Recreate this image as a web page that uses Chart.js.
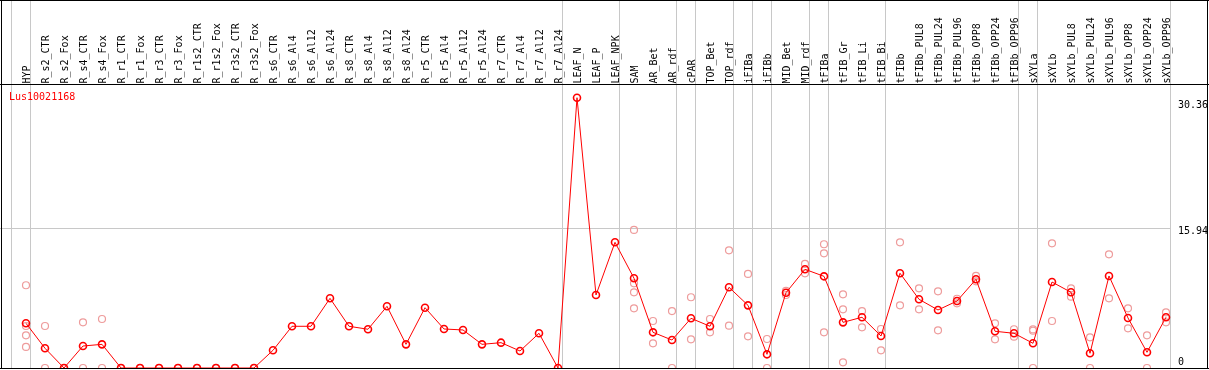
<!DOCTYPE html>
<html>
<head>
<meta charset="utf-8">
<script src="https://cdn.jsdelivr.net/npm/chart.js@4.4.1/dist/chart.umd.min.js"></script>
<style>
  html, body { margin: 0; padding: 0; background: #fff; }
  #wrap { width: 1209px; height: 370px; }
</style>
</head>
<body>
<div id="wrap"><canvas id="chart" width="1209" height="370"></canvas></div>
<script>
// Samples shown along the top
const categories = [
    'HYP', 'R_s2_CTR', 'R_s2_Fox', 'R_s4_CTR', 'R_s4_Fox', 'R_r1_CTR', 'R_r1_Fox', 'R_r3_CTR', 'R_r3_Fox',
    'R_r1s2_CTR', 'R_r1s2_Fox', 'R_r3s2_CTR', 'R_r3s2_Fox', 'R_s6_CTR', 'R_s6_Al4', 'R_s6_Al12', 'R_s6_Al24',
    'R_s8_CTR', 'R_s8_Al4', 'R_s8_Al12', 'R_s8_Al24', 'R_r5_CTR', 'R_r5_Al4', 'R_r5_Al12', 'R_r5_Al24',
    'R_r7_CTR', 'R_r7_Al4', 'R_r7_Al12', 'R_r7_Al24', 'LEAF_N', 'LEAF_P', 'LEAF_NPK', 'SAM', 'AR_Bet', 'AR_rdf',
    'cPAR', 'TOP_Bet', 'TOP_rdf', 'iFIBa', 'iFIBb', 'MID_Bet', 'MID_rdf', 'tFIBa', 'tFIB_Gr', 'tFIB_Li', 'tFIB_Bi',
    'tFIBb', 'tFIBb_PUL8', 'tFIBb_PUL24', 'tFIBb_PUL96', 'tFIBb_OPP8', 'tFIBb_OPP24', 'tFIBb_OPP96',
    'sXYLa', 'sXYLb', 'sXYLb_PUL8', 'sXYLb_PUL24', 'sXYLb_PUL96', 'sXYLb_OPP8', 'sXYLb_OPP24', 'sXYLb_OPP96'
];

// Mean expression per sample
const means = [
    5.10, 2.25, 0, 2.51, 2.70, 0, 0, 0, 0, 0, 0, 0, 0,
    2.02, 4.76, 4.76, 7.95, 4.76, 4.42, 7.04, 2.70, 6.88, 4.45, 4.34, 2.70, 2.89, 1.94, 3.96, 0,
    30.84, 8.33, 14.34, 10.24, 4.07, 3.19, 5.67, 4.76, 9.21, 7.15, 1.56, 8.59, 11.26,
    10.46, 5.21, 5.79, 3.65, 10.81, 7.84, 6.62, 7.64, 10.12, 4.19, 3.96,
    2.82, 9.81, 8.64, 1.68, 10.50, 5.71, 1.79, 5.79
];

// Individual replicates per sample (same order as categories)
const replicates = [
    [9.44, 4.79, 3.73, 2.40], [4.79, 0], [0, 0], [5.21, 0], [5.59, 0],
    [0, 0], [0, 0], [0, 0], [0, 0], [0, 0], [0, 0], [0, 0], [0, 0],
    [], [], [], [], [], [], [], [], [], [], [], [], [], [], [], [],
    [], [], [],
    [15.75, 9.66, 8.63, 6.81], [5.36, 2.82], [6.50, 0], [8.07, 3.27], [5.59, 4.07], [13.43, 4.83],
    [10.73, 3.61], [3.31, 0], [8.79, 8.33], [11.87, 10.80],
    [14.12, 13.09, 4.07], [8.41, 6.69, 0.65], [6.50, 4.64], [4.45, 2.02],
    [14.34, 7.15], [9.09, 6.69], [8.75, 4.30], [7.38, 7.90], [10.50, 9.89], [5.10, 3.27], [4.42, 3.57],
    [4.40, 4.25, 0], [14.23, 5.36], [9.09, 8.14], [3.50, 0], [12.97, 7.95], [6.81, 4.53], [3.73, 0], [6.35, 5.21]
];

// Samples that start a new tissue group (a grey separator is drawn before them)
const groupStarts = [0, 1, 29, 32, 35, 36, 38, 39, 40, 42, 43, 46, 53, 54, 61];

// Right-hand value labels
const yTickValues = [0, 15.94, 30.36];
const geneName = 'Lus10021168';

const FONT = '10px "DejaVu Sans Mono", monospace';
const GRID = '#c8c8c8';

const meanPoints = means.map((v, i) => ({ x: i, y: v }));
const repPoints = [];
replicates.forEach((vals, i) => vals.forEach(v => repPoints.push({ x: i, y: v })));

// Lines, borders and all the text around the plot
const framePlugin = {
    id: 'frame',
    beforeDatasetsDraw(chart) {
        const { ctx, chartArea, scales: { x, y } } = chart;
        ctx.save();
        ctx.fillStyle = GRID;
        groupStarts.forEach(i => {
            const px = Math.round(x.getPixelForValue(i - 15 / 19));
            ctx.fillRect(px, 0, 1, chartArea.bottom);
        });
        const xEnd = Math.round(x.getPixelForValue(groupStarts[groupStarts.length - 1] - 15 / 19));
        yTickValues.slice(1, -1).forEach(v => {
            const py = Math.round(y.getPixelForValue(v));
            ctx.fillRect(0, py, xEnd, 1);
        });
        ctx.restore();
    },
    afterDraw(chart) {
        const { ctx, chartArea, scales: { x, y } } = chart;
        const W = chart.width;
        ctx.save();

        // black frame + header separator
        ctx.fillStyle = '#000';
        ctx.fillRect(0, 0, W, 1);
        ctx.fillRect(0, chartArea.top - 1, W, 1);
        ctx.fillRect(0, chartArea.bottom, W, 1);
        ctx.fillRect(1, 0, 1, chartArea.bottom + 1);
        ctx.fillRect(W - 2, 0, 1, chartArea.bottom + 1);

        ctx.font = FONT;

        // sample names, rotated
        ctx.fillStyle = '#000';
        ctx.textAlign = 'left';
        ctx.textBaseline = 'middle';
        categories.forEach((name, i) => {
            const px = x.getPixelForValue(i);
            ctx.save();
            ctx.translate(px + 1, chartArea.top - 1.5);
            ctx.rotate(-Math.PI / 2);
            ctx.fillText(name, 0, 0);
            ctx.restore();
        });

        // value labels on the right
        yTickValues.forEach(v => {
            const py = y.getPixelForValue(v);
            if (v === 0) {
                ctx.textBaseline = 'alphabetic';
                ctx.fillText(String(v), 1178, py - 3);
            } else {
                ctx.textBaseline = 'top';
                ctx.fillText(v.toFixed(2), 1178, py - 2);
            }
        });

        // gene id
        ctx.fillStyle = '#ff0000';
        ctx.textBaseline = 'alphabetic';
        ctx.fillText(geneName, 9, 100);

        ctx.restore();
    }
};

const ctx = document.getElementById('chart').getContext('2d');
const chart = new Chart(ctx, {
    type: 'line',
    data: {
        datasets: [
            {
                label: 'mean',
                data: meanPoints,
                borderColor: '#ff0000',
                borderWidth: 1,
                pointStyle: 'circle',
                pointRadius: 3.5,
                pointBorderWidth: 1.6,
                pointBorderColor: '#ff0000',
                pointBackgroundColor: 'rgba(0,0,0,0)',
                tension: 0,
                order: 0
            },
            {
                label: 'replicates',
                data: repPoints,
                showLine: false,
                pointStyle: 'circle',
                pointRadius: 3.5,
                pointBorderWidth: 1.2,
                pointBorderColor: '#ee9c9c',
                pointBackgroundColor: 'rgba(0,0,0,0)',
                order: 1
            }
        ]
    },
    options: {
        responsive: false,
        animation: false,
        devicePixelRatio: 1,
        layout: {
            autoPadding: false,
            padding: { top: 85, bottom: 2, left: 0, right: 0 }
        },
        plugins: {
            legend: { display: false },
            tooltip: { enabled: false }
        },
        scales: {
            x: {
                type: 'linear',
                display: false,
                min: -26 / 19,
                max: -26 / 19 + 1209 / 19
            },
            y: {
                type: 'linear',
                display: false,
                min: 0,
                max: 32.29
            }
        }
    },
    plugins: [framePlugin]
});
</script>
</body>
</html>
